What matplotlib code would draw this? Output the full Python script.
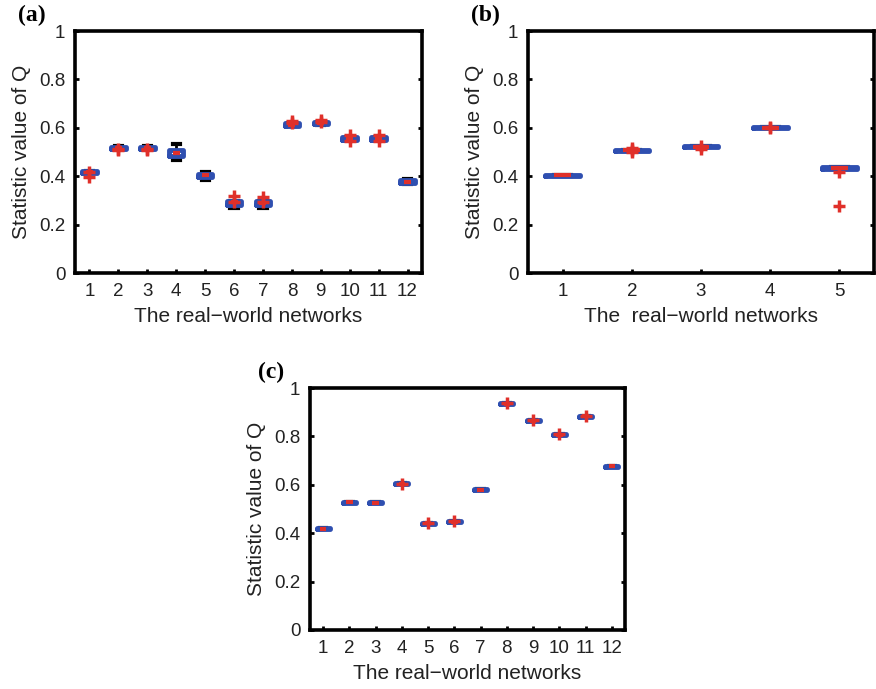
import matplotlib
matplotlib.use('Agg')
from matplotlib import pyplot as plt

# panel (a): 12 networks
a_med = [0.418, 0.517, 0.518, 0.497, 0.403, 0.292, 0.288, 0.613, 0.619, 0.556, 0.556, 0.377]
a_q1 = [0.414, 0.513, 0.514, 0.485, 0.396, 0.280, 0.281, 0.608, 0.614, 0.551, 0.551, 0.371]
a_q3 = [0.421, 0.521, 0.522, 0.510, 0.410, 0.298, 0.296, 0.618, 0.623, 0.561, 0.561, 0.383]
a_wlo = [0.414, 0.511, 0.512, 0.468, 0.386, 0.268, 0.270, 0.606, 0.612, 0.551, 0.551, 0.367]
a_whi = [0.421, 0.526, 0.525, 0.531, 0.418, 0.298, 0.296, 0.618, 0.623, 0.561, 0.561, 0.388]
a_fliers = [[0.417, 0.398], [0.512, 0.508], [0.513, 0.508], [], [], [0.318, 0.295],
            [0.312, 0.292], [0.628, 0.620], [0.632, 0.625], [0.570, 0.545],
            [0.570, 0.545], []]

# panel (b): 5 networks
b_med = [0.403, 0.508, 0.521, 0.601, 0.434]
b_q1 = [0.401, 0.506, 0.519, 0.599, 0.430]
b_q3 = [0.405, 0.510, 0.523, 0.603, 0.436]
b_fliers = [[], [0.518, 0.500, 0.508], [0.523, 0.512], [0.604, 0.598], [0.418, 0.278]]

# panel (c): 12 networks
c_med = [0.418, 0.528, 0.525, 0.604, 0.442, 0.448, 0.580, 0.935, 0.865, 0.806, 0.883, 0.676]
c_fliers = [[], [], [], [0.605], [0.443], [0.451], [], [0.937], [0.866], [0.808], [0.886], []]

yticks = [0, 0.2, 0.4, 0.6, 0.8, 1]
ytick_labels = ['0', '0.2', '0.4', '0.6', '0.8', '1']

BLUE = '#2f4fb0'
RED = '#e0302a'

plt.rcParams['font.family'] = ['Liberation Sans', 'DejaVu Sans']


def makeStats(med, q1, q3, wlo, whi, fliers):
    stats = []
    for i in range(len(med)):
        stats.append({'med': med[i], 'q1': q1[i], 'q3': q3[i],
                      'whislo': wlo[i], 'whishi': whi[i], 'fliers': fliers[i]})
    return stats


def drawPanel(ax, stats, xlabel, tag):
    n = len(stats)
    res = ax.bxp(stats, positions=range(1, n + 1), widths=0.5, showfliers=True,
                 boxprops=dict(color=BLUE, linewidth=3.5, solid_capstyle='round',
                               solid_joinstyle='round', zorder=3),
                 medianprops=dict(color=RED, linewidth=3, zorder=4),
                 whiskerprops=dict(color='black', linewidth=2, zorder=2),
                 capprops=dict(color='black', linewidth=3, zorder=2),
                 flierprops=dict(marker='+', markeredgecolor=RED, markersize=9,
                                 markeredgewidth=2.5, zorder=5))
    # median bar sits inside the blue outline, like matlab
    for i, line in enumerate(res['medians']):
        line.set_xdata([i + 1 - 0.12, i + 1 + 0.12])
    ax.set_xlim(0.5, n + 0.5)
    ax.set_ylim(0, 1)
    ax.set_yticks(yticks)
    ax.set_yticklabels(ytick_labels)
    ax.set_xticks(range(1, n + 1))
    ax.set_xticklabels([str(i) for i in range(1, n + 1)])
    ax.tick_params(direction='in', length=3, width=2, labelsize=13.5, right=True, pad=7,
                   labelcolor='#222222')
    for s in ax.spines.values():
        s.set_linewidth(2.6)
    ax.set_xlabel(xlabel, fontsize=15, labelpad=5, color='#222222')
    ax.set_ylabel('Statistic value of Q', fontsize=15, labelpad=6, color='#222222')
    ax.text(-0.165, 1.02, tag, transform=ax.transAxes, fontsize=17, fontweight='bold',
            family='Liberation Serif', ha='left', va='bottom')


fig = plt.figure(figsize=(8.76, 6.89), dpi=100)
W, H = 876.0, 689.0
axA = fig.add_axes([75 / W, 1 - 273 / H, (422 - 75) / W, (273 - 31) / H])
axB = fig.add_axes([528 / W, 1 - 273 / H, (874 - 528) / W, (273 - 31) / H])
axC = fig.add_axes([310 / W, 1 - 630 / H, (625 - 310) / W, (630 - 388) / H])

drawPanel(axA, makeStats(a_med, a_q1, a_q3, a_wlo, a_whi, a_fliers), 'The real\u2212world networks', '(a)')
drawPanel(axB, makeStats(b_med, b_q1, b_q3, b_q1, b_q3, b_fliers), 'The  real\u2212world networks', '(b)')
c_q1 = [m - 0.002 for m in c_med]
c_q3 = [m + 0.002 for m in c_med]
drawPanel(axC, makeStats(c_med, c_q1, c_q3, c_q1, c_q3, c_fliers), 'The real\u2212world networks', '(c)')

fig.savefig('out.png', dpi=100)
